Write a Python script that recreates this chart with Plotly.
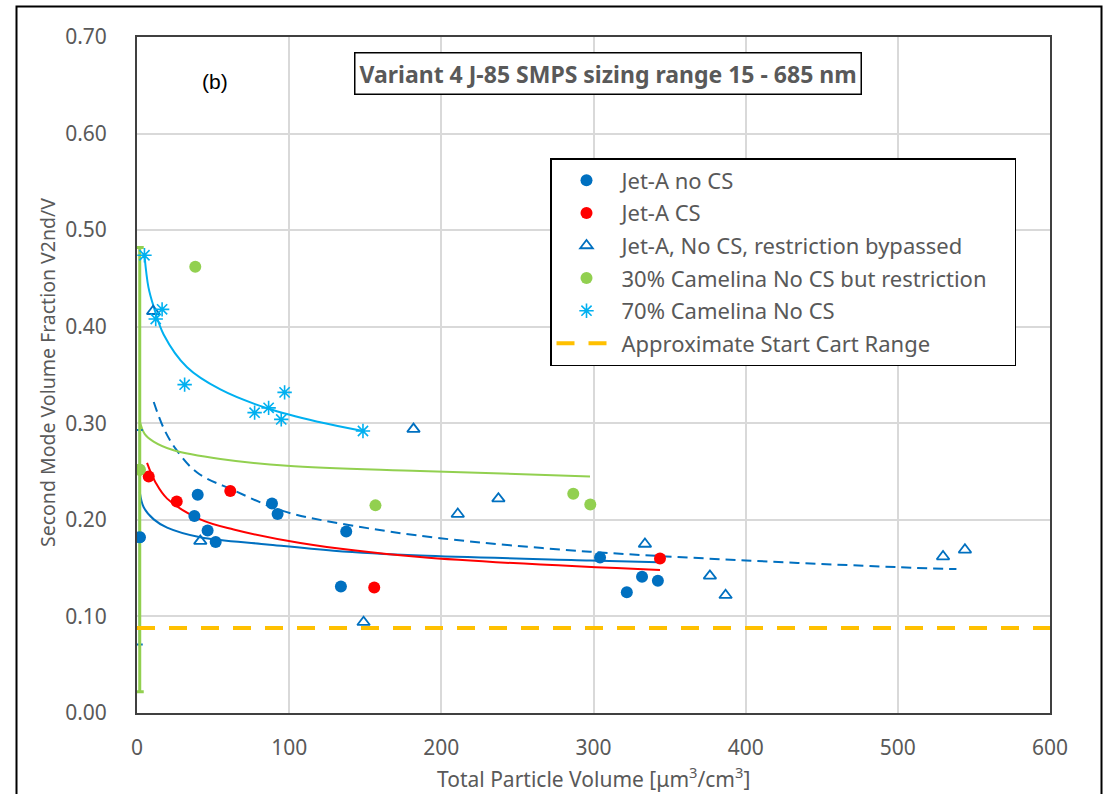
import plotly.graph_objects as go

# ---------------- data ----------------
jetA_noCS_x = [1.8, 37.7, 39.9, 46.4, 51.7, 88.7, 92.4, 137.5, 134.0, 304.3, 321.9, 331.9, 342.3]
jetA_noCS_y = [0.182, 0.204, 0.226, 0.189, 0.177, 0.217, 0.206, 0.188, 0.131, 0.161, 0.125, 0.141, 0.137]
jetA_noCS_err = 0.111  # error bar on first point

jetA_CS_x = [7.7, 26.1, 61.3, 155.9, 343.7]
jetA_CS_y = [0.245, 0.219, 0.230, 0.130, 0.160]

bypass_x = [10.6, 41.6, 148.9, 181.7, 210.8, 237.5, 333.8, 376.5, 386.8, 529.7, 544.1]
bypass_y = [0.416, 0.178, 0.094, 0.294, 0.206, 0.222, 0.175, 0.142, 0.122, 0.162, 0.169]

cam30_x = [1.8, 38.3, 156.7, 286.7, 297.9]
cam30_y = [0.252, 0.462, 0.215, 0.227, 0.216]
cam30_err = 0.23  # error bar on first point

cam70_x = [4.9, 12.3, 16.5, 31.3, 77.3, 86.5, 94.8, 97.0, 148.5]
cam70_y = [0.474, 0.408, 0.418, 0.340, 0.311, 0.316, 0.304, 0.332, 0.292]

startcart_x = [0, 600]
startcart_y = [0.088, 0.088]

# trendlines
tr_cam70_x = [4.9, 7.5, 10.9, 17.5, 32.9, 54.8, 86.5, 120.4, 148.5]
tr_cam70_y = [0.474, 0.441, 0.421, 0.392, 0.358, 0.335, 0.315, 0.301, 0.292]
tr_cam30_x = [1.8, 5.0, 10.9, 24.1, 54.8, 98.6, 186.0, 297.7]
tr_cam30_y = [0.302, 0.289, 0.281, 0.272, 0.263, 0.256, 0.2506, 0.245]
tr_red_x = [6.6, 12.1, 19.8, 41.6, 63.5, 107.3, 186.0, 343.7]
tr_red_y = [0.259, 0.239, 0.222, 0.2005, 0.190, 0.176, 0.1615, 0.148]
tr_blue_x = [1.8, 4.4, 11.0, 19.8, 41.6, 85.4, 129.2, 186.0, 297.7, 342.6]
tr_blue_y = [0.229, 0.213, 0.2005, 0.192, 0.182, 0.1746, 0.168, 0.163, 0.158, 0.156]
tr_byp_x = [11.0, 17.5, 25.2, 39.5, 63.5, 96.3, 140.0, 199.2, 297.7, 400.0, 500.0, 538.5]
tr_byp_y = [0.322, 0.295, 0.274, 0.249, 0.2306, 0.209, 0.1945, 0.181, 0.167, 0.158, 0.151, 0.149]

x_ticks = [0, 100, 200, 300, 400, 500, 600]
y_ticks = [0.0, 0.1, 0.2, 0.3, 0.4, 0.5, 0.6, 0.7]

BLUE = "#0070C0"
RED = "#FF0000"
GREEN = "#92D050"
LBLUE = "#00B0F0"
ORANGE = "#FFC000"
GRAY = "#595959"
FONT = "Noto Sans"
NB = "\u00a0"

fig = go.Figure()

# trendlines
fig.add_trace(go.Scatter(x=tr_byp_x, y=tr_byp_y, mode="lines", line=dict(color=BLUE, width=2, dash="10px,6px", shape="spline"), showlegend=False, hoverinfo="skip"))
fig.add_trace(go.Scatter(x=tr_blue_x, y=tr_blue_y, mode="lines", line=dict(color=BLUE, width=2, shape="spline"), showlegend=False, hoverinfo="skip"))
fig.add_trace(go.Scatter(x=tr_red_x, y=tr_red_y, mode="lines", line=dict(color=RED, width=2, shape="spline"), showlegend=False, hoverinfo="skip"))
fig.add_trace(go.Scatter(x=tr_cam30_x, y=tr_cam30_y, mode="lines", line=dict(color=GREEN, width=2, shape="spline"), showlegend=False, hoverinfo="skip"))
fig.add_trace(go.Scatter(x=tr_cam70_x, y=tr_cam70_y, mode="lines", line=dict(color=LBLUE, width=2, shape="spline"), showlegend=False, hoverinfo="skip"))

# error bars
fig.add_trace(go.Scatter(x=jetA_noCS_x[:1], y=jetA_noCS_y[:1], mode="markers",
                         marker=dict(color=BLUE, size=12),
                         error_y=dict(type="data", array=[jetA_noCS_err], color=BLUE, thickness=2, width=3),
                         showlegend=False, hoverinfo="skip"))
fig.add_trace(go.Scatter(x=cam30_x[:1], y=cam30_y[:1], mode="markers",
                         marker=dict(color=GREEN, size=12),
                         error_y=dict(type="data", array=[cam30_err], color=GREEN, thickness=3, width=4),
                         showlegend=False, hoverinfo="skip"))

# series
fig.add_trace(go.Scatter(x=jetA_noCS_x, y=jetA_noCS_y, mode="markers", name="Jet-A no CS",
                         legendgroup="a", marker=dict(color=BLUE, size=12)))
fig.add_trace(go.Scatter(x=jetA_CS_x, y=jetA_CS_y, mode="markers", name="Jet-A CS",
                         legendgroup="b", marker=dict(color=RED, size=12)))
fig.add_trace(go.Scatter(x=bypass_x, y=bypass_y, mode="markers", name="Jet-A, No CS, restriction bypassed",
                         legendgroup="c", marker=dict(symbol="triangle-up-open", color=BLUE, size=11, line=dict(width=1.8, color=BLUE))))
fig.add_trace(go.Scatter(x=cam30_x, y=cam30_y, mode="markers", name="30% Camelina No CS but restriction" + NB * 4,
                         legendgroup="d", marker=dict(color=GREEN, size=12)))
fig.add_trace(go.Scatter(x=cam70_x, y=cam70_y, mode="markers", name="70% Camelina No CS",
                         legendgroup="e", marker=dict(symbol="asterisk-open", color=LBLUE, size=12, line=dict(width=1.6, color=LBLUE))))
fig.add_trace(go.Scatter(x=startcart_x, y=startcart_y, mode="lines", name="Approximate Start Cart Range",
                         legendgroup="f", line=dict(color=ORANGE, width=4, dash="18px,14px")))

PL, PR, PT, PB = 137, 1050, 37, 713
W, H = 1109, 794

def px2paper_x(px):
    return (px - PL) / (PR - PL)

def px2paper_y(py):
    return (PB - py) / (PB - PT)

fig.update_layout(
    width=W, height=H,
    margin=dict(l=PL, r=W - PR, t=PT, b=H - PB, autoexpand=False),
    paper_bgcolor="white", plot_bgcolor="white",
    font=dict(family=FONT, color=GRAY),
    xaxis=dict(range=[0, 600], tickvals=x_ticks, ticktext=[str(v) for v in x_ticks],
               showgrid=True, gridcolor="#D9D9D9", gridwidth=1.5,
               showline=True, linecolor="#404040", linewidth=2, mirror=True,
               ticks="", ticklabelstandoff=15, tickfont=dict(size=21, color=GRAY, family=FONT),
               zeroline=False),
    yaxis=dict(range=[0, 0.70], tickvals=y_ticks, ticktext=[f"{v:.2f}" for v in y_ticks],
               showgrid=True, gridcolor="#D9D9D9", gridwidth=1.5,
               showline=True, linecolor="#404040", linewidth=2, mirror=True,
               ticks="", ticklabelstandoff=24, tickfont=dict(size=21, color=GRAY, family=FONT),
               zeroline=False),
    legend=dict(x=px2paper_x(550), y=px2paper_y(158), xanchor="left", yanchor="top",
                bgcolor="white", bordercolor="black", borderwidth=1.5,
                font=dict(size=22, color=GRAY, family=FONT),
                tracegroupgap=1, itemwidth=60),
    showlegend=True,
)

# outer chart border
fig.add_shape(type="rect", xref="paper", yref="paper",
              x0=px2paper_x(16.5), x1=px2paper_x(1101.5), y0=px2paper_y(800), y1=px2paper_y(6.5),
              line=dict(color="black", width=2), fillcolor="rgba(0,0,0,0)", layer="below")

fig.add_annotation(text="<b>Variant 4 J-85 SMPS sizing range 15 - 685 nm</b>", xref="paper", yref="paper",
                   x=px2paper_x(608), y=px2paper_y(73), xanchor="center", yanchor="middle", showarrow=False,
                   font=dict(size=23, color=GRAY, family=FONT),
                   bordercolor="black", borderwidth=1.5, borderpad=4, bgcolor="white")
fig.add_annotation(text="(b)", xref="paper", yref="paper", x=px2paper_x(215), y=px2paper_y(82),
                   xanchor="center", yanchor="middle",
                   showarrow=False, font=dict(size=21, color="black", family="Liberation Sans"))
fig.add_annotation(text="Total Particle Volume [μm<sup>3</sup>/cm<sup>3</sup>]", xref="paper", yref="paper",
                   x=px2paper_x(593), y=px2paper_y(777), xanchor="center", yanchor="middle", showarrow=False,
                   font=dict(size=21, color=GRAY, family=FONT))
fig.add_annotation(text="Second Mode Volume Fraction V2nd/V", xref="paper", yref="paper",
                   x=px2paper_x(47), y=px2paper_y(373), xanchor="center", yanchor="middle",
                   showarrow=False, textangle=-90,
                   font=dict(size=19.5, color=GRAY, family=FONT))

fig.write_html("out.html")
